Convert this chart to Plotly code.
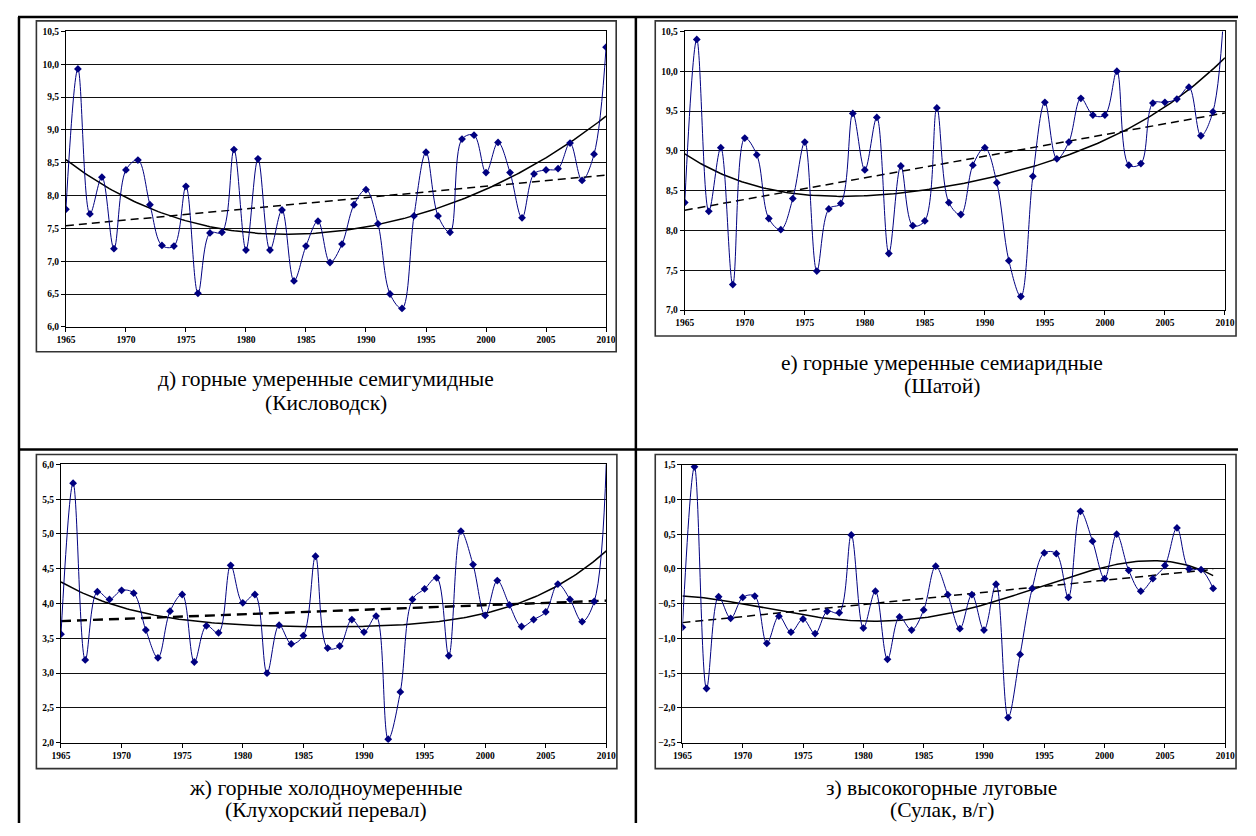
import numpy as np
import plotly.graph_objects as go

# page is 1256x836; the html body has an 8px default margin, so the figure is 1240x820
PAGE_W, PAGE_H = 1256, 836
OFF = 8
W, H = PAGE_W - 2 * OFF, PAGE_H - 2 * OFF

years = list(range(1965, 2011))
years_sulak = list(range(1965, 2010))

kislovodsk = [7.79, 9.93, 7.72, 8.28, 7.19, 8.39, 8.54, 7.86, 7.24, 7.23,
              8.14, 6.51, 7.43, 7.44, 8.70, 7.17, 8.56, 7.17, 7.78, 6.70,
              7.23, 7.61, 6.98, 7.26, 7.86, 8.09, 7.57, 6.50, 6.28, 7.69,
              8.66, 7.69, 7.44, 8.86, 8.92, 8.35, 8.81, 8.35, 7.66, 8.33,
              8.39, 8.41, 8.80, 8.23, 8.63, 10.26]

shatoy = [8.35, 10.40, 8.24, 9.04, 7.32, 9.16, 8.95, 8.15, 8.01, 8.40,
          9.11, 7.49, 8.27, 8.34, 9.47, 8.76, 9.42, 7.71, 8.81, 8.06,
          8.12, 9.54, 8.35, 8.20, 8.82, 9.04, 8.60, 7.62, 7.17, 8.68,
          9.61, 8.90, 9.11, 9.66, 9.45, 9.45, 10.00, 8.82, 8.84, 9.60,
          9.61, 9.65, 9.80, 9.19, 9.49, 11.00]

klukhor = [3.56, 5.73, 3.19, 4.17, 4.06, 4.19, 4.15, 3.62, 3.22, 3.89,
           4.13, 3.16, 3.68, 3.58, 4.55, 4.01, 4.13, 3.00, 3.69, 3.42,
           3.54, 4.68, 3.36, 3.39, 3.77, 3.59, 3.82, 2.05, 2.73, 4.06,
           4.21, 4.37, 3.25, 5.04, 4.56, 3.83, 4.33, 3.98, 3.67, 3.77,
           3.88, 4.28, 4.06, 3.74, 4.03, 6.05]

sulak = [-0.84, 1.47, -1.72, -0.40, -0.71, -0.41, -0.39, -1.07, -0.68, -0.91,
         -0.72, -0.93, -0.61, -0.63, 0.49, -0.85, -0.32, -1.30, -0.69, -0.88,
         -0.59, 0.04, -0.37, -0.86, -0.37, -0.88, -0.22, -2.14, -1.23, -0.28,
         0.23, 0.22, -0.41, 0.83, 0.40, -0.14, 0.50, -0.02, -0.32, -0.14,
         0.05, 0.59, 0.00, -0.01, -0.28]

captions = [
    ("д) горные умеренные семигумидные", "(Кисловодск)"),
    ("е) горные умеренные семиаридные", "(Шатой)"),
    ("ж) горные холодноумеренные", "(Клухорский перевал)"),
    ("з) высокогорные луговые", "(Сулак, в/г)"),
]
y_ranges = [(6.0, 10.5), (7.0, 10.5), (2.0, 6.0), (-2.5, 1.5)]
x_ticks = [1965, 1970, 1975, 1980, 1985, 1990, 1995, 2000, 2005, 2010]
poly_deg = [4, 4, 4, 4]

# page-pixel geometry: plot areas (x0, x1, ytop, ybottom), frames, caption lines
plot_px = [(56.7, 605.7, 26.7, 325.7), (685.7, 1234.7, 26.7, 308.7),
           (51.7, 606.0, 465.0, 746.7), (683.3, 1235.0, 465.3, 746.7)]
frame_px = [(26.7, 616.0, 16.0, 351.0), (655.7, 1246.0, 16.0, 335.0),
            (26.7, 616.7, 455.0, 773.0), (655.7, 1246.0, 455.0, 773.0)]
caption_px = [(321, 379, 403), (947, 362, 386), (321, 793, 815), (947, 793, 815)]

series = [(years, kislovodsk), (years, shatoy), (years, klukhor), (years_sulak, sulak)]

def fx(x):
    return (x - OFF) / W

def fy(y):
    return 1 - (y - OFF) / H

fig = go.Figure()
NAVY = "#000080"
SERIF = "Liberation Serif, Times New Roman, serif"
tickfont = dict(family=SERIF, size=9.5, color="black", weight="bold")

for i, (xs, ys) in enumerate(series):
    n = i + 1
    xa = "x" if n == 1 else f"x{n}"
    ya = "y" if n == 1 else f"y{n}"
    xarr = np.array(xs, dtype=float)
    yarr = np.array(ys, dtype=float)
    t = xarr - 1965
    grid = np.linspace(t[0], t[-1], 200)
    lin = np.polyval(np.polyfit(t, yarr, 1), grid)
    pol = np.polyval(np.polyfit(t, yarr, poly_deg[i]), grid)
    dash_w = 2.4 if i == 2 else 1.5
    dash = "10px,6px" if i == 2 else "8px,5px"
    fig.add_trace(go.Scatter(x=grid + 1965, y=lin, mode="lines", xaxis=xa, yaxis=ya,
                             line=dict(color="black", width=dash_w, dash=dash),
                             showlegend=False, hoverinfo="skip"))
    fig.add_trace(go.Scatter(x=grid + 1965, y=pol, mode="lines", xaxis=xa, yaxis=ya,
                             line=dict(color="black", width=1.5),
                             showlegend=False, hoverinfo="skip"))
    fig.add_trace(go.Scatter(x=xs, y=ys, mode="lines+markers", xaxis=xa, yaxis=ya,
                             line=dict(color=NAVY, width=1, shape="spline", smoothing=1.0),
                             marker=dict(symbol="diamond", size=6, color=NAVY),
                             showlegend=False))
    x0, x1, yt, yb = plot_px[i]
    lo, hi = y_ranges[i]
    fig.layout[f"xaxis{'' if n == 1 else n}"] = dict(
        domain=[fx(x0), fx(x1)], anchor=ya, range=[1965, 2010],
        tickmode="array", tickvals=x_ticks, ticks="outside", ticklen=4,
        tickcolor="black", showline=True, linecolor="black", linewidth=1,
        mirror=True, showgrid=False, zeroline=False, tickfont=tickfont)
    fig.layout[f"yaxis{'' if n == 1 else n}"] = dict(
        domain=[fy(yb), fy(yt)], anchor=xa, range=[lo, hi],
        tick0=lo, dtick=0.5, tickformat=".1f", ticks="outside", ticklen=4,
        tickcolor="black", showline=True, linecolor="black", linewidth=1,
        mirror=True, showgrid=True, gridcolor="#111", gridwidth=1,
        zeroline=False, tickfont=tickfont)

shapes = []
# chart frames
for (x0, x1, yt, yb) in frame_px:
    shapes.append(dict(type="rect", xref="paper", yref="paper",
                       x0=fx(x0), x1=fx(x1), y0=fy(yb), y1=fy(yt),
                       line=dict(color="#333", width=1.6)))
# table borders
tb = dict(color="black", width=2.5)
shapes.append(dict(type="line", xref="paper", yref="paper", x0=fx(8), x1=1, y0=fy(12), y1=fy(12), line=tb))
shapes.append(dict(type="line", xref="paper", yref="paper", x0=fx(8), x1=1, y0=fy(450), y1=fy(450), line=tb))
shapes.append(dict(type="line", xref="paper", yref="paper", x0=fx(9), x1=fx(9), y0=0, y1=fy(12), line=tb))
shapes.append(dict(type="line", xref="paper", yref="paper", x0=fx(636), x1=fx(636), y0=0, y1=fy(12), line=tb))

annotations = []
for (cx, cy1, cy2), (l1, l2) in zip(caption_px, captions):
    for cy, txt in ((cy1, l1), (cy2, l2)):
        annotations.append(dict(x=fx(cx), y=fy(cy), xref="paper", yref="paper",
                                text=txt, showarrow=False, xanchor="center", yanchor="middle",
                                font=dict(family=SERIF, size=21.5, color="black")))

fig.update_layout(width=W, height=H, autosize=False,
                  margin=dict(l=0, r=0, t=0, b=0),
                  paper_bgcolor="white", plot_bgcolor="white",
                  separators=", ", shapes=shapes, annotations=annotations)

fig.write_html("out.html")
